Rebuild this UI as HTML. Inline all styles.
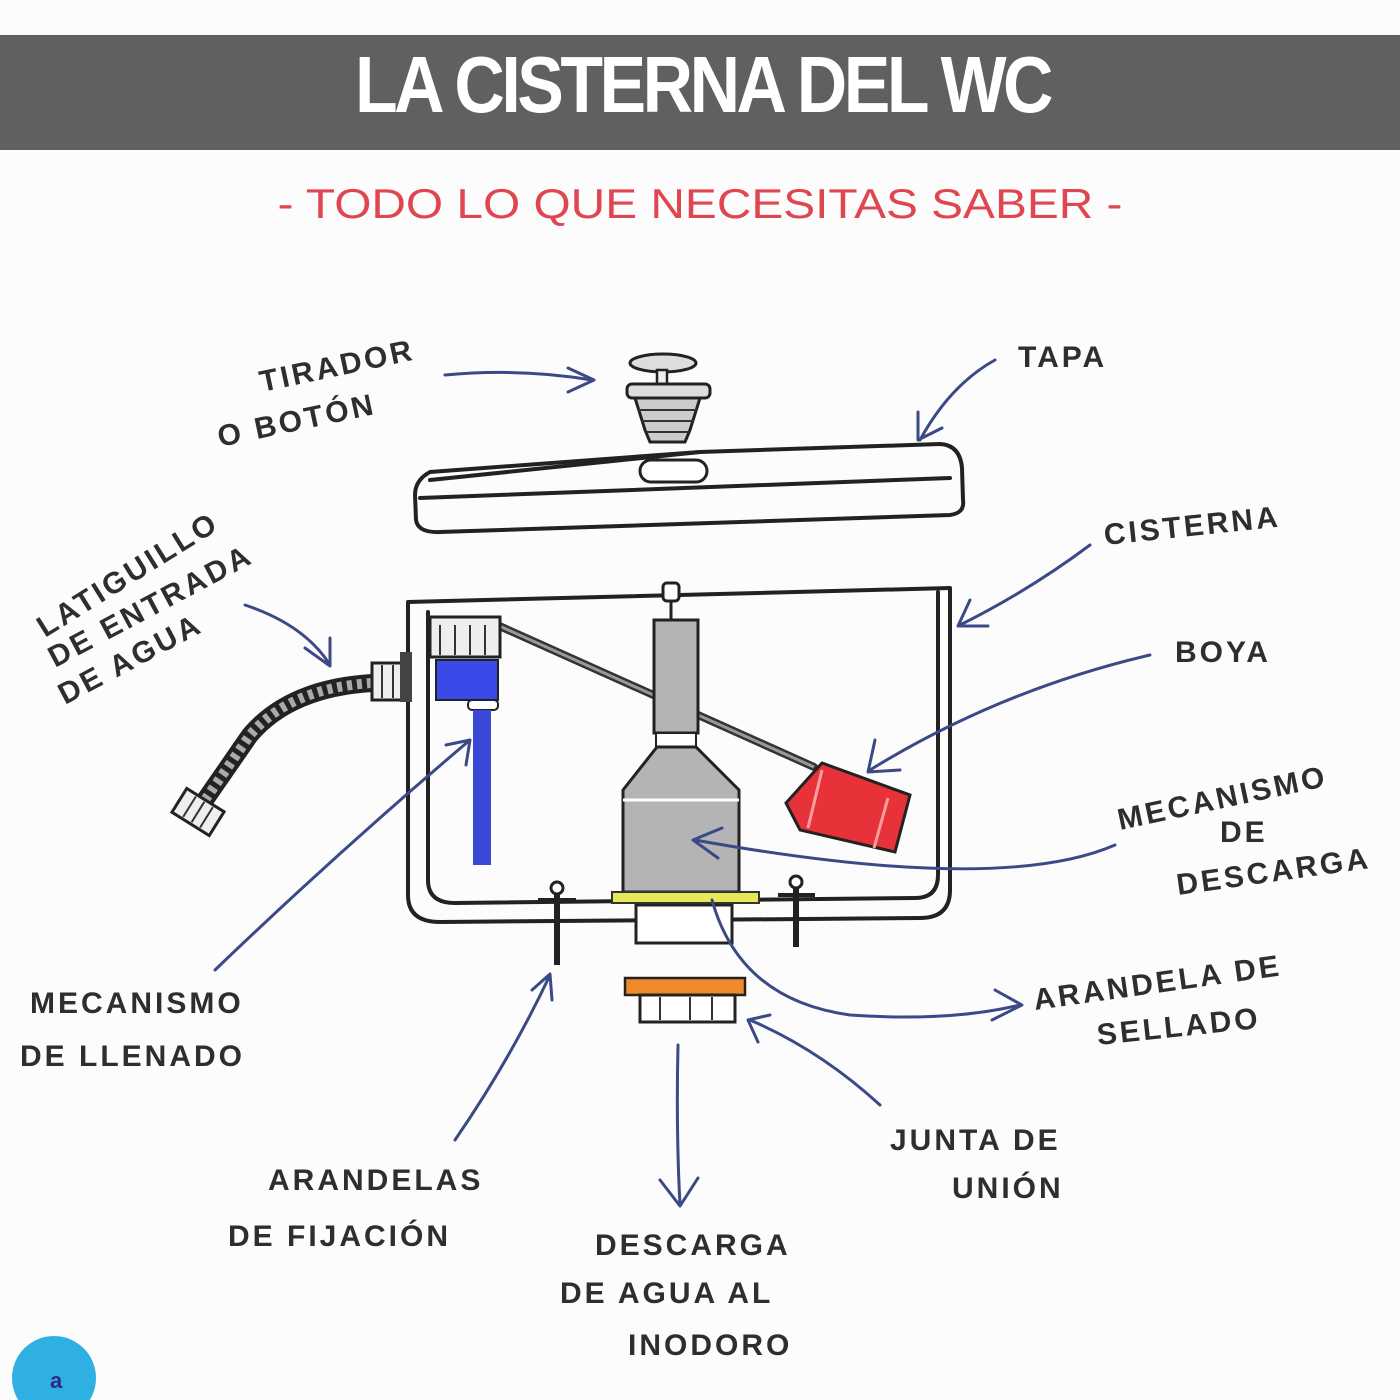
<!DOCTYPE html>
<html><head><meta charset="utf-8"><style>
html,body{margin:0;padding:0;background:#fcfcfc;}
svg{display:block}
.l{font-family:"Liberation Sans",sans-serif;font-size:30px;fill:#2e2e2e;letter-spacing:3px;font-weight:bold}
.a{fill:none;stroke:#3b4a87;stroke-width:3;stroke-linecap:round;stroke-linejoin:round}
.k{fill:none;stroke:#222;stroke-width:4;stroke-linejoin:round;stroke-linecap:round}
</style></head><body>
<svg width="1400" height="1400" viewBox="0 0 1400 1400" xmlns="http://www.w3.org/2000/svg">
<rect width="1400" height="1400" fill="#fcfcfc"/>
<rect x="0" y="35" width="1400" height="115" fill="#606060"/>
<text x="355" y="112" textLength="695" lengthAdjust="spacingAndGlyphs" font-family="Liberation Sans" font-weight="bold" font-size="80" letter-spacing="-4" fill="#fff">LA CISTERNA DEL WC</text>
<text x="700" y="218" text-anchor="middle" textLength="845" lengthAdjust="spacingAndGlyphs" font-family="Liberation Sans" font-size="42" fill="#e0464f">- TODO LO QUE NECESITAS SABER -</text>

<!-- button -->
<ellipse cx="663" cy="363" rx="33" ry="9" fill="#ddd" stroke="#222" stroke-width="3"/>
<rect x="657" y="370" width="10" height="16" fill="#eee" stroke="#222" stroke-width="2.5"/>
<rect x="627" y="384" width="83" height="14" rx="5" fill="#ddd" stroke="#222" stroke-width="3"/>
<path d="M635,398 L700,398 L690,430 L685,442 L650,442 L645,430 Z" fill="#ccc" stroke="#222" stroke-width="3"/>
<path d="M638,410 H697 M641,421 H694 M646,432 H689" stroke="#333" stroke-width="2"/>
<!-- lid -->
<path class="k" d="M430,472 Q415,480 415,495 L416,520 Q418,533 440,532 L950,515 Q965,513 963,500 L962,468 Q960,445 940,444 L700,452 Z" fill="#fff"/>
<path class="k" d="M420,498 L950,478"/>
<path class="k" d="M430,480 Q600,462 700,452"/>
<rect x="640" y="460" width="67" height="22" rx="11" fill="#fff" stroke="#222" stroke-width="3"/>

<!-- tank -->
<path class="k" d="M408,602 L950,588 L950,890 Q950,918 920,918 L440,922 Q408,922 408,895 Z" fill="#fff"/>
<path class="k" d="M428,612 L428,880 Q428,903 455,903 L915,898 Q938,898 938,875 L938,592"/>
<!-- arm -->
<path d="M486,620 L814,767" stroke="#333" stroke-width="8" stroke-linecap="round"/>
<path d="M486,620 L814,767" stroke="#999" stroke-width="3"/>
<!-- float -->
<path d="M786,803 L822,763 L910,795 L895,852 L800,830 Z" fill="#e8323a" stroke="#222" stroke-width="3"/>
<path d="M822,770 L808,828 M888,798 L874,848" stroke="#f8a0a0" stroke-width="3"/>
<!-- fill valve -->
<rect x="430" y="617" width="70" height="40" fill="#eee" stroke="#222" stroke-width="3"/>
<path d="M440,625 V655 M455,625 V655 M470,625 V655 M485,625 V655" stroke="#333" stroke-width="2"/>
<path d="M436,660 H498 V700 H436 Z" fill="#3a4ae8" stroke="#222" stroke-width="2"/>
<rect x="468" y="700" width="30" height="10" rx="4" fill="#fff" stroke="#222" stroke-width="2"/>
<rect x="473" y="710" width="18" height="155" fill="#3a48d8"/>
<!-- flush mechanism -->
<rect x="663" y="583" width="16" height="18" rx="4" fill="#fff" stroke="#222" stroke-width="3"/>
<path d="M671,601 V620" stroke="#222" stroke-width="3"/>
<rect x="654" y="620" width="44" height="113" fill="#b4b4b4" stroke="#222" stroke-width="3"/>
<rect x="656" y="733" width="40" height="14" fill="#fff" stroke="#222" stroke-width="2"/>
<path d="M657,747 L696,747 L739,790 L739,892 L623,892 L623,790 Z" fill="#b4b4b4" stroke="#222" stroke-width="3"/>
<path d="M623,800 H739" stroke="#fff" stroke-width="3"/>
<rect x="636" y="905" width="96" height="38" fill="#fff" stroke="#222" stroke-width="3"/>
<rect x="612" y="892" width="147" height="11" fill="#e7e85a" stroke="#333" stroke-width="2"/>
<!-- bolts -->
<circle cx="557" cy="888" r="6" fill="#fff" stroke="#222" stroke-width="3"/>
<path d="M538,900 H576" stroke="#222" stroke-width="4"/>
<path d="M557,894 V965" stroke="#222" stroke-width="6"/>
<circle cx="796" cy="882" r="6" fill="#fff" stroke="#222" stroke-width="3"/>
<path d="M778,895 H815" stroke="#222" stroke-width="4"/>
<path d="M796,888 V947" stroke="#222" stroke-width="6"/>
<!-- junta -->
<rect x="625" y="978" width="120" height="17" fill="#ee8a2a" stroke="#222" stroke-width="2.5"/>
<rect x="640" y="995" width="95" height="27" fill="#fff" stroke="#222" stroke-width="3"/>
<path d="M660,997 V1020 M690,997 V1020 M712,997 V1020" stroke="#333" stroke-width="2"/>
<!-- hose -->
<path d="M372,683 Q290,688 250,735 L205,800" fill="none" stroke="#222" stroke-width="18" stroke-linecap="butt"/>
<path d="M372,683 Q290,688 250,735 L205,800" fill="none" stroke="#aaa" stroke-width="10" stroke-dasharray="5 5"/>
<rect x="372" y="663" width="33" height="37" fill="#eee" stroke="#222" stroke-width="3"/>
<path d="M382,665 V698 M393,665 V698" stroke="#333" stroke-width="2"/>
<rect x="400" y="652" width="12" height="50" fill="#444"/>
<g transform="translate(198,812) rotate(32)"><rect x="-22" y="-14" width="44" height="28" fill="#eee" stroke="#222" stroke-width="3"/><path d="M-10,-12 V12 M0,-12 V12 M10,-12 V12" stroke="#333" stroke-width="2"/></g>

<!-- arrows -->
<path class="a" d="M445,375 Q520,368 592,380 M568,368 L594,380 L568,392"/>
<path class="a" d="M995,360 Q950,385 920,440 M918,412 L918,440 L942,428"/>
<path class="a" d="M1090,545 Q1030,590 960,625 M970,600 L958,626 L988,626"/>
<path class="a" d="M1150,655 Q1000,690 870,770 M875,740 L868,772 L900,770"/>
<path class="a" d="M1115,845 Q1000,895 695,840 M722,828 L693,840 L718,858"/>
<path class="a" d="M712,900 Q740,1000 850,1015 Q950,1022 1020,1005 M995,990 L1022,1005 L992,1020"/>
<path class="a" d="M880,1105 Q820,1050 750,1020 M770,1015 L748,1020 L758,1042"/>
<path class="a" d="M678,1045 Q676,1130 680,1205 M660,1180 L680,1206 L698,1178"/>
<path class="a" d="M455,1140 Q510,1060 550,975 M532,990 L550,974 L552,1000"/>
<path class="a" d="M215,970 Q340,850 470,740 M446,745 L470,740 L466,765"/>
<path class="a" d="M245,605 Q305,625 330,665 M305,648 L330,666 L330,638"/>

<!-- labels -->
<text class="l" transform="translate(262,392) rotate(-12)">TIRADOR</text>
<text class="l" transform="translate(220,447) rotate(-12)">O BOTÓN</text>
<text class="l" x="1018" y="367">TAPA</text>
<text class="l" transform="translate(1105,545) rotate(-6)">CISTERNA</text>
<text class="l" x="1175" y="662">BOYA</text>
<text class="l" transform="translate(1120,830) rotate(-12)">MECANISMO</text>
<text class="l" x="1220" y="842">DE</text>
<text class="l" transform="translate(1178,895) rotate(-8)">DESCARGA</text>
<text class="l" transform="translate(45,638) rotate(-32)">LATIGUILLO</text>
<text class="l" transform="translate(55,668) rotate(-28)">DE ENTRADA</text>
<text class="l" transform="translate(65,705) rotate(-28)">DE AGUA</text>
<text class="l" x="30" y="1013">MECANISMO</text>
<text class="l" x="20" y="1066">DE LLENADO</text>
<text class="l" transform="translate(1035,1010) rotate(-8)">ARANDELA DE</text>
<text class="l" transform="translate(1098,1045) rotate(-6)">SELLADO</text>
<text class="l" x="890" y="1150">JUNTA DE</text>
<text class="l" x="952" y="1198">UNIÓN</text>
<text class="l" x="268" y="1190">ARANDELAS</text>
<text class="l" x="228" y="1246">DE FIJACIÓN</text>
<text class="l" x="595" y="1255">DESCARGA</text>
<text class="l" x="560" y="1303">DE AGUA AL</text>
<text class="l" x="628" y="1355">INODORO</text>

<circle cx="54" cy="1378" r="42" fill="#2fb0e3"/>
<text x="50" y="1388" font-family="Liberation Sans" font-size="22" font-weight="bold" fill="#2a2a8a">a</text>
</svg>
</body></html>
